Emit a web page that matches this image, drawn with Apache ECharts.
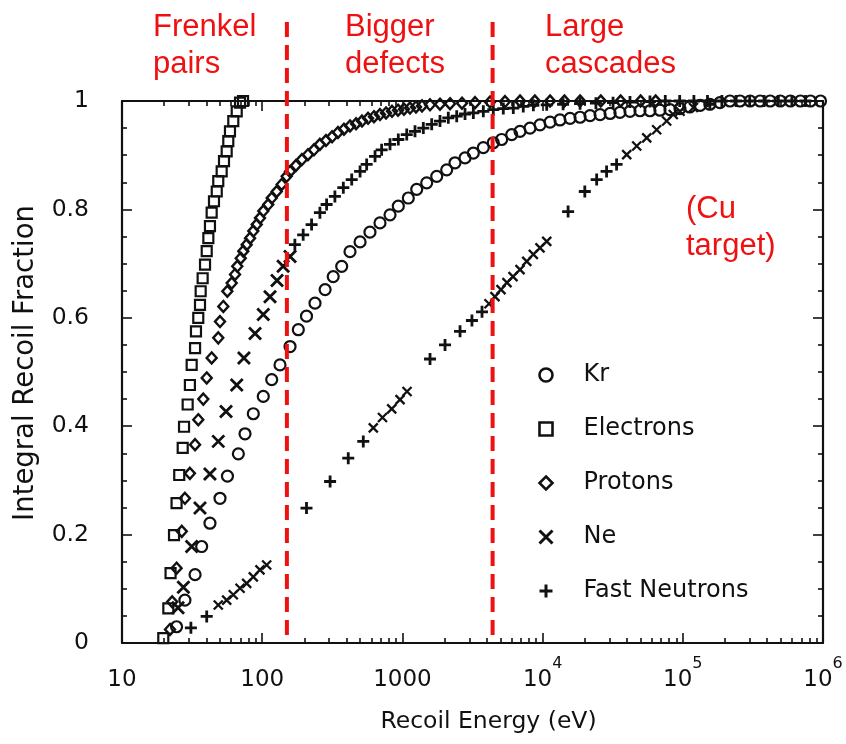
<!DOCTYPE html>
<html>
<head>
<meta charset="utf-8">
<title>Integral recoil fraction</title>
<script src="https://cdn.jsdelivr.net/npm/echarts@6.0.0/dist/echarts.min.js"></script>
<style>
  html, body { margin: 0; padding: 0; background: #fff; }
  #main { width: 846px; height: 744px; }
</style>
</head>
<body>
<div id="main"></div>
<script>
// recoil energy (eV) vs integral recoil fraction, Cu target

var xTicks = [10, 100, 1000, 10000, 100000, 1000000];
var minorTickE = [20, 30, 40, 50, 60, 70, 80, 90,
  200, 300, 400, 500, 600, 700, 800, 900,
  2000, 3000, 4000, 5000, 6000, 7000, 8000, 9000,
  20000, 30000, 40000, 50000, 60000, 70000, 80000, 90000,
  200000, 300000, 400000, 500000, 600000, 700000, 800000, 900000];
var yTicks = [0, 0.2, 0.4, 0.6, 0.8, 1];

// region boundaries (dashed red lines)
var boundaryE = [150, 4400];

var electrons = [[19.7, 0.009], [21.4, 0.064], [22.2, 0.129], [23.5, 0.199], [24.5, 0.258],
  [25.6, 0.310], [27.1, 0.360], [27.7, 0.399], [29.4, 0.440], [30.5, 0.476], [31.4, 0.513],
  [33.2, 0.544], [33.7, 0.575], [35.0, 0.600], [36.0, 0.624], [36.4, 0.649], [37.6, 0.673],
  [39.1, 0.698], [40.2, 0.723], [41.3, 0.747], [42.4, 0.769], [43.6, 0.794], [45.3, 0.815],
  [47.4, 0.833], [48.6, 0.852], [51.4, 0.870], [53.4, 0.889], [55.8, 0.907], [57.3, 0.926],
  [58.9, 0.944], [62.2, 0.963], [65.8, 0.981], [69.5, 0.997], [73, 1]];

var protons = [[22.0, 0.025], [22.8, 0.076], [24.5, 0.138], [26.7, 0.206], [28.1, 0.267],
  [30.5, 0.313], [33.2, 0.366], [35.0, 0.412], [38.0, 0.450], [40.2, 0.489], [43.6, 0.526],
  [48.6, 0.563], [50.0, 0.593], [52.8, 0.621], [56.4, 0.649], [60.6, 0.664], [64.0, 0.680],
  [66.4, 0.695], [70.3, 0.710], [73.3, 0.723], [77.5, 0.735], [81.9, 0.747], [86.4, 0.760],
  [91.4, 0.772], [96.4, 0.784], [101.8, 0.797], [110.5, 0.809], [116.9, 0.821], [126.9, 0.833],
  [137.7, 0.846], [149.5, 0.861], [158, 0.870], [174, 0.881], [192, 0.892], [212, 0.901],
  [234, 0.910], [258, 0.920], [285, 0.927], [315, 0.934], [347, 0.942], [383, 0.948],
  [423, 0.954], [467, 0.958], [515, 0.963], [569, 0.968], [627, 0.971], [692, 0.975],
  [764, 0.978], [843, 0.981], [931, 0.983], [1026, 0.985], [1133, 0.987], [1250, 0.989],
  [1380, 0.991], [1574, 0.993], [1854, 0.994], [2187, 0.995], [2661, 0.996], [3296, 0.997],
  [4217, 0.998], [5395, 0.999], [6900, 1], [8800, 1], [11300, 1], [14300, 1], [18500, 1],
  [26000, 1], [36000, 1], [50000, 1], [64000, 1]];

var ne = [[25.1, 0.065], [27.4, 0.103], [31.4, 0.178], [36.0, 0.249], [42.4, 0.312],
  [48.6, 0.372], [55.2, 0.427], [65.8, 0.476], [74.1, 0.526], [88.9, 0.571], [101.8, 0.606],
  [113.7, 0.639], [127.6, 0.669], [141, 0.695], [158, 0.713], [171, 0.735], [196, 0.753],
  [225, 0.772], [258, 0.794], [288, 0.809], [330, 0.824], [379, 0.840], [435, 0.855],
  [499, 0.870], [556, 0.883], [638, 0.898], [711, 0.910], [816, 0.920], [935, 0.929],
  [1074, 0.938], [1230, 0.944], [1410, 0.950], [1618, 0.957], [1854, 0.963], [2125, 0.969],
  [2440, 0.972], [2797, 0.976], [3206, 0.978], [3777, 0.981], [4449, 0.984], [5245, 0.986],
  [6180, 0.987], [7280, 0.990], [8590, 0.992], [10700, 0.993], [14000, 0.994], [18500, 0.995],
  [24000, 0.996], [31800, 0.997], [42000, 0.998], [58300, 0.999], [75000, 1], [95000, 1],
  [120000, 1], [150000, 1], [190000, 1], [240000, 1], [300000, 1], [380000, 1], [480000, 1],
  [600000, 1], [750000, 1]];

var kr = [[24.5, 0.030], [28.1, 0.079], [33.2, 0.126], [37.0, 0.178], [42.4, 0.221],
  [50.0, 0.267], [56.5, 0.308], [67.6, 0.349], [75.4, 0.386], [86.4, 0.423], [101.8, 0.455],
  [116.9, 0.486], [134, 0.513], [158, 0.547], [181, 0.578], [207, 0.603], [238, 0.627],
  [281, 0.652], [321, 0.676], [369, 0.695], [423, 0.722], [499, 0.740], [587, 0.758],
  [692, 0.775], [816, 0.790], [935, 0.806], [1102, 0.821], [1265, 0.837], [1490, 0.849],
  [1757, 0.861], [2070, 0.873], [2372, 0.886], [2797, 0.895], [3206, 0.904], [3777, 0.914],
  [4449, 0.923], [5105, 0.929], [6020, 0.938], [6900, 0.944], [8130, 0.950], [9580, 0.956],
  [11300, 0.961], [13300, 0.965], [15700, 0.968], [18500, 0.970], [21800, 0.973],
  [25700, 0.975], [30300, 0.977], [35600, 0.979], [42000, 0.981], [49500, 0.982],
  [58300, 0.982], [68700, 0.983], [81000, 0.984], [95500, 0.986], [112000, 0.989],
  [133000, 0.992], [156000, 0.994], [184000, 0.997], [217000, 1], [256000, 1], [302000, 1],
  [356000, 1], [420000, 1], [496000, 1], [585000, 1], [690000, 1], [814000, 1], [960000, 1]];

// fast neutrons: sparse points read as '+', dense runs read as small 'x'
var neutronPlus = [[31.0, 0.028], [40.2, 0.049], [207, 0.249], [305, 0.298], [411, 0.341],
  [526, 0.372], [1574, 0.524], [2014, 0.550], [2577, 0.575], [3133, 0.595], [3697, 0.611],
  [15200, 0.796], [20000, 0.833], [24300, 0.855], [28600, 0.870], [33700, 0.883],
  [156000, 0.994]];
var neutronCross = [[48.6, 0.070], [55.8, 0.079], [62.2, 0.089], [69.5, 0.101], [77.5, 0.110],
  [86.4, 0.122], [96.4, 0.135], [107.6, 0.144], [620, 0.397], [721, 0.416], [839, 0.432],
  [962, 0.449], [1079, 0.464], [4146, 0.626], [4573, 0.639], [5048, 0.652], [5570, 0.665],
  [6150, 0.676], [6900, 0.689], [7710, 0.704], [8590, 0.717], [9580, 0.729], [10700, 0.741],
  [39800, 0.901], [46900, 0.917], [55300, 0.932], [65100, 0.947], [76700, 0.963],
  [85500, 0.975], [95500, 0.981], [119000, 0.988]];

var ink = '#111';
var red = '#ee1111';
var crossPath = 'path://M0,0L10,10M10,0L0,10';
var plusPath = 'path://M5,0L5,10M0,5L10,5';
var font = 'DejaVu Sans';

var chart = echarts.init(document.getElementById('main'), null, { renderer: 'canvas' });

function openStyle(w) {
  return { color: 'transparent', borderColor: ink, borderWidth: w, opacity: 1 };
}

function logAxis(grid, pos, major) {
  return {
    type: 'log',
    logBase: 10,
    gridIndex: grid,
    position: pos,
    min: 10,
    max: 1000000,
    axisLine: { show: major, onZero: false, lineStyle: { color: ink, width: 2.2 } },
    axisTick: {
      show: true,
      inside: true,
      length: major ? 10 : 5,
      customValues: major ? xTicks : minorTickE,
      lineStyle: { color: ink, width: 1.6 }
    },
    axisLabel: { show: false },
    splitLine: { show: false }
  };
}

var bottomAxis = logAxis(0, 'bottom', true);
bottomAxis.axisLabel = {
  show: true,
  customValues: xTicks,
  margin: 13,
  formatter: function (v) {
    var p = Math.round(Math.log(v) / Math.LN10);
    if (p < 4) return '{b|' + v + '}';
    return '{b|10}{sup|' + p + '}';
  },
  rich: {
    b: { fontFamily: font, fontSize: 23, color: ink, lineHeight: 36, verticalAlign: 'bottom' },
    sup: { fontFamily: font, fontSize: 16, color: ink, lineHeight: 18, verticalAlign: 'top' }
  }
};
bottomAxis.name = 'Recoil Energy (eV)';
bottomAxis.nameLocation = 'middle';
bottomAxis.nameGap = 67;
bottomAxis.nameTextStyle = { fontFamily: font, fontSize: 23.5, color: ink, padding: [0, 0, 0, 32] };

function valueAxis(grid, pos, labels) {
  return {
    type: 'value',
    gridIndex: grid,
    position: pos,
    min: 0,
    max: 1,
    interval: 0.2,
    axisLine: { show: true, lineStyle: { color: ink, width: 2.2 } },
    axisTick: { show: true, inside: true, length: 10, lineStyle: { color: ink, width: 1.6 } },
    minorTick: { show: true, splitNumber: 4, length: 5, lineStyle: { color: ink, width: 1.6 } },
    axisLabel: {
      show: labels,
      margin: 33,
      fontFamily: font,
      fontSize: 23.5,
      color: ink,
      formatter: function (v) { return yTicks.indexOf(v) >= 0 ? String(v) : ''; }
    },
    splitLine: { show: false }
  };
}

var leftAxis = valueAxis(0, 'left', true);
leftAxis.name = 'Integral Recoil Fraction';
leftAxis.nameLocation = 'middle';
leftAxis.nameGap = 82;
leftAxis.nameTextStyle = { fontFamily: font, fontSize: 27.5, color: ink, padding: [0, 0, 0, 18] };

function hiddenValue(grid) {
  return { type: 'value', gridIndex: grid, min: 0, max: 1, show: false };
}

var linesAxis = logAxis(2, 'bottom', false);
linesAxis.show = false;

var option = {
  backgroundColor: '#fff',
  animation: false,
  grid: [
    { left: 122, top: 101, width: 701, height: 542 },
    { left: 122, top: 101, width: 701, height: 542 },
    { left: 122, top: 14, width: 701, height: 621 }
  ],
  xAxis: [
    bottomAxis,
    logAxis(0, 'top', true),
    logAxis(1, 'bottom', false),
    logAxis(1, 'top', false),
    linesAxis
  ],
  yAxis: [
    leftAxis,
    valueAxis(0, 'right', false),
    hiddenValue(1),
    hiddenValue(2)
  ],
  legend: {
    orient: 'vertical',
    left: 533,
    top: 356,
    itemWidth: 13,
    itemHeight: 13,
    itemGap: 26,
    selectedMode: false,
    textStyle: { fontFamily: font, fontSize: 24, color: ink, lineHeight: 28, padding: [0, 0, 0, 26] },
    data: [
      { name: 'Kr', icon: 'circle', itemStyle: openStyle(2.6) },
      { name: 'Electrons', icon: 'rect', itemStyle: openStyle(2.6) },
      { name: 'Protons', icon: 'diamond', itemStyle: openStyle(2.6) },
      { name: 'Ne', icon: crossPath, itemStyle: openStyle(3) },
      { name: 'Fast Neutrons', icon: plusPath, itemStyle: openStyle(3) }
    ]
  },
  graphic: [
    { type: 'text', left: 153, top: 9, style: { text: 'Frenkel\npairs', fontFamily: 'Liberation Sans', fontSize: 31, lineHeight: 37, fill: red } },
    { type: 'text', left: 345, top: 9, style: { text: 'Bigger\ndefects', fontFamily: 'Liberation Sans', fontSize: 31, lineHeight: 37, fill: red } },
    { type: 'text', left: 545, top: 9, style: { text: 'Large\ncascades', fontFamily: 'Liberation Sans', fontSize: 31, lineHeight: 37, fill: red } },
    { type: 'text', left: 686, top: 191, style: { text: '(Cu\ntarget)', fontFamily: 'Liberation Sans', fontSize: 31, lineHeight: 37, fill: red } }
  ],
  series: [
    {
      name: 'Kr', type: 'scatter', data: kr, clip: false,
      symbol: 'circle', symbolSize: 11, itemStyle: openStyle(2.2)
    },
    {
      name: 'Electrons', type: 'scatter', data: electrons, clip: false,
      symbol: 'rect', symbolSize: 10, itemStyle: openStyle(2.2)
    },
    {
      name: 'Protons', type: 'scatter', data: protons, clip: false,
      symbol: 'diamond', symbolSize: [10, 11], itemStyle: openStyle(2.4)
    },
    {
      name: 'Ne', type: 'scatter', data: ne, clip: false,
      symbol: function (v) { return v[0] < 165 ? crossPath : plusPath; },
      symbolSize: 12, itemStyle: openStyle(2.8)
    },
    {
      name: 'Fast Neutrons', type: 'scatter', data: neutronPlus, clip: false,
      symbol: plusPath, symbolSize: 12, itemStyle: openStyle(2.8)
    },
    {
      name: 'Fast Neutrons', type: 'scatter', data: neutronCross, clip: false,
      symbol: crossPath, symbolSize: 9, itemStyle: openStyle(2.3)
    }
  ].concat(boundaryE.map(function (e) {
    return {
      type: 'line', xAxisIndex: 4, yAxisIndex: 3, z: 10,
      data: [[e, 0], [e, 1]], symbol: 'none', silent: true,
      lineStyle: { color: red, width: 4, type: [15, 8] }
    };
  }))
};

chart.setOption(option);
</script>
</body>
</html>
